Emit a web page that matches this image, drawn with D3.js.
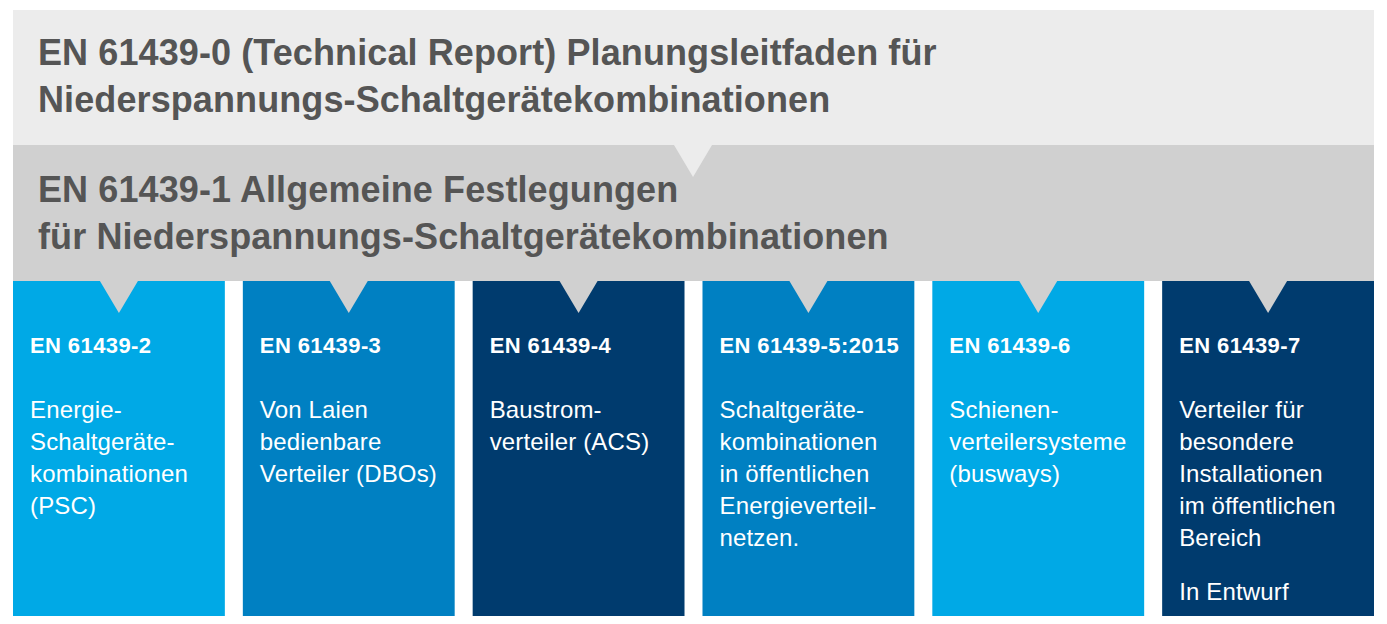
<!DOCTYPE html>
<html>
<head>
<meta charset="utf-8">
<script src="https://cdn.jsdelivr.net/npm/d3@7"></script>
<style>
  body { margin: 0; background: #fff; }
  svg { display: block; font-family: 'Liberation Sans', Arial, Helvetica, sans-serif; }
</style>
</head>
<body>
<svg id="chart"></svg>
<script>
// header bands
const bandTitles = [
  ['EN 61439-0 (Technical Report) Planungsleitfaden für', 'Niederspannungs-Schaltgerätekombinationen'],
  ['EN 61439-1 Allgemeine Festlegungen', 'für Niederspannungs-Schaltgerätekombinationen']
];

// parts 2..7
const partCodes = ['EN 61439-2', 'EN 61439-3', 'EN 61439-4', 'EN 61439-5:2015', 'EN 61439-6', 'EN 61439-7'];
const partTexts = [
  ['Energie-', 'Schaltgeräte-', 'kombinationen', '(PSC)'],
  ['Von Laien', 'bedienbare', 'Verteiler (DBOs)'],
  ['Baustrom-', 'verteiler (ACS)'],
  ['Schaltgeräte-', 'kombinationen', 'in öffentlichen', 'Energieverteil-', 'netzen.'],
  ['Schienen-', 'verteilersysteme', '(busways)'],
  ['Verteiler für', 'besondere', 'Installationen', 'im öffentlichen', 'Bereich']
];
const partNotes = ['', '', '', '', '', 'In Entwurf'];
const partTones = ['light', 'mid', 'dark', 'mid', 'light', 'dark'];

const width = 1387, height = 624;
const left = 13, right = 1374;
const bandTop = [10, 145];
const bandH = 136;
const colTop = 281, colBottom = 616;
const tri = { w: 38, h: 32 };

const toneColor = d3.scaleOrdinal()
  .domain(['light', 'mid', 'dark'])
  .range(['#00a9e6', '#0080c2', '#003b6e']);
const bandColor = ['#ececec', '#d0d0d0'];

const svg = d3.select('#chart')
  .attr('width', width)
  .attr('height', height);

const x = d3.scaleBand()
  .domain(partCodes)
  .range([left, right])
  .paddingInner(18 / 230)
  .paddingOuter(0);

// bands
svg.selectAll('.band')
  .data(bandTitles)
  .enter()
  .append('rect')
  .classed('band', true)
  .attr('x', left)
  .attr('y', (d, i) => bandTop[i])
  .attr('width', right - left)
  .attr('height', bandH)
  .attr('fill', (d, i) => bandColor[i]);

// columns
const col = svg.selectAll('.col')
  .data(partCodes)
  .enter()
  .append('g')
  .classed('col', true)
  .attr('transform', d => 'translate(' + x(d) + ',0)');

col.append('rect')
  .attr('x', 0)
  .attr('y', colTop)
  .attr('width', x.bandwidth())
  .attr('height', colBottom - colTop)
  .attr('fill', (d, i) => toneColor(partTones[i]));

// pointer triangles under each band
const pointer = (cx, top, fill) => {
  svg.append('path')
    .attr('d', 'M' + (cx - tri.w / 2) + ',' + top + 'L' + (cx + tri.w / 2) + ',' + top + 'L' + cx + ',' + (top + tri.h) + 'Z')
    .attr('fill', fill);
};
pointer(693, bandTop[1], bandColor[0]);
partCodes.forEach(d => pointer(x(d) + x.bandwidth() / 2, colTop, bandColor[1]));

// band titles
svg.selectAll('.band-title')
  .data(bandTitles)
  .enter()
  .append('text')
  .classed('band-title', true)
  .attr('x', 38)
  .attr('y', (d, i) => [65, 202][i])
  .attr('fill', '#555555')
  .attr('font-weight', 'bold')
  .attr('font-size', '36px')
  .attr('letter-spacing', '0.1px')
  .selectAll('tspan')
  .data(d => d)
  .enter()
  .append('tspan')
  .attr('x', 38)
  .attr('dy', (d, i) => i === 0 ? 0 : 47)
  .text(d => d);

// column texts
col.append('text')
  .attr('x', 17)
  .attr('y', 353)
  .attr('fill', '#fff')
  .attr('font-weight', 'bold')
  .attr('font-size', '22px')
  .attr('letter-spacing', '0.4px')
  .text(d => d);

col.append('text')
  .attr('x', 17)
  .attr('y', 418)
  .attr('fill', '#fff')
  .attr('font-size', '24px')
  .attr('letter-spacing', '0.15px')
  .selectAll('tspan')
  .data((d, i) => partTexts[i])
  .enter()
  .append('tspan')
  .attr('x', 17)
  .attr('dy', (d, i) => i === 0 ? 0 : 32)
  .text(d => d);

col.append('text')
  .attr('x', 17)
  .attr('y', 600)
  .attr('fill', '#fff')
  .attr('font-size', '24px')
  .attr('letter-spacing', '0.15px')
  .text((d, i) => partNotes[i]);
</script>
</body>
</html>
